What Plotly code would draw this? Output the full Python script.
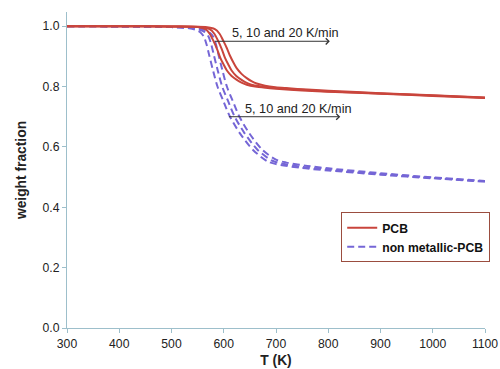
import plotly.graph_objects as go

# PCB curves (heating rates 5, 10, 20 K/min)
T_pcb5 = [300, 400, 500, 550, 565, 573, 580, 587, 593, 600, 606, 615, 625, 635, 644, 660, 680, 700, 750, 800, 900, 1000, 1100]
W_pcb5 = [1.000, 1.000, 0.999, 0.997, 0.990, 0.975, 0.952, 0.925, 0.897, 0.872, 0.853, 0.835, 0.822, 0.812, 0.806, 0.800, 0.796, 0.793, 0.787, 0.783, 0.776, 0.769, 0.762]
T_pcb10 = [300, 400, 500, 555, 573, 582, 589, 596, 602, 609, 615, 624, 634, 644, 653, 669, 689, 709, 750, 800, 900, 1000, 1100]
W_pcb10 = [1.000, 1.000, 0.999, 0.997, 0.990, 0.975, 0.952, 0.925, 0.897, 0.872, 0.853, 0.835, 0.822, 0.812, 0.806, 0.801, 0.797, 0.794, 0.789, 0.784, 0.777, 0.770, 0.763]
T_pcb20 = [300, 400, 500, 565, 583, 592, 599, 606, 612, 619, 625, 634, 644, 654, 663, 679, 699, 719, 760, 800, 900, 1000, 1100]
W_pcb20 = [1.000, 1.000, 0.999, 0.997, 0.990, 0.975, 0.952, 0.927, 0.902, 0.878, 0.860, 0.842, 0.828, 0.817, 0.810, 0.803, 0.798, 0.795, 0.790, 0.786, 0.778, 0.771, 0.764]

# non metallic-PCB curves (heating rates 5, 10, 20 K/min)
T_nm5 = [300, 400, 500, 530, 545, 555, 562, 567, 572, 580, 588, 599, 612, 631, 656, 683, 700, 750, 800, 900, 1000, 1100]
W_nm5 = [1.000, 0.999, 0.997, 0.994, 0.989, 0.980, 0.965, 0.940, 0.905, 0.850, 0.800, 0.753, 0.700, 0.645, 0.590, 0.553, 0.543, 0.530, 0.522, 0.508, 0.496, 0.485]
T_nm10 = [300, 400, 500, 538, 553, 564, 571, 576, 581, 589, 597, 608, 621, 640, 665, 692, 710, 750, 800, 900, 1000, 1100]
W_nm10 = [1.000, 0.999, 0.997, 0.994, 0.989, 0.980, 0.965, 0.940, 0.905, 0.850, 0.800, 0.753, 0.700, 0.645, 0.590, 0.555, 0.545, 0.534, 0.525, 0.510, 0.497, 0.486]
T_nm20 = [300, 400, 500, 545, 561, 572, 580, 585, 590, 598, 606, 617, 630, 649, 674, 701, 720, 760, 800, 900, 1000, 1100]
W_nm20 = [1.000, 0.999, 0.997, 0.994, 0.989, 0.980, 0.965, 0.940, 0.905, 0.850, 0.800, 0.753, 0.700, 0.645, 0.590, 0.557, 0.548, 0.537, 0.529, 0.513, 0.499, 0.487]

x_ticks = [300, 400, 500, 600, 700, 800, 900, 1000, 1100]
y_ticks = [0.0, 0.2, 0.4, 0.6, 0.8, 1.0]
rate_label = "5, 10 and 20 K/min"

RED = "#C9453C"
PURPLE = "#7566D6"
FONT = "Arial, Liberation Sans, sans-serif"

fig = go.Figure()
pcb = [(T_pcb5, W_pcb5), (T_pcb10, W_pcb10), (T_pcb20, W_pcb20)]
nm = [(T_nm5, W_nm5), (T_nm10, W_nm10), (T_nm20, W_nm20)]
for i, (t, w) in enumerate(nm):
    fig.add_trace(go.Scatter(x=t, y=w, mode="lines", line=dict(color=PURPLE, width=2, dash="7px,4px", shape="spline", smoothing=0.8),
                             name="<b>non metallic-PCB</b>", showlegend=(i == 0), legendrank=2))
for i, (t, w) in enumerate(pcb):
    fig.add_trace(go.Scatter(x=t, y=w, mode="lines", line=dict(color=RED, width=2, shape="spline", smoothing=0.8),
                             name="<b>PCB</b>", showlegend=(i == 0), legendrank=1))

# annotations with arrows
fig.add_annotation(x=803, y=0.95, ax=580, ay=0.95, xref="x", yref="y", axref="x", ayref="y",
                   showarrow=True, arrowhead=4, arrowsize=1.2, arrowwidth=1, arrowcolor="#333", text="")
fig.add_annotation(x=612, y=0.979, xref="x", yref="y", text=rate_label, showarrow=False, xanchor="left",
                   font=dict(family=FONT, size=12.7, color="#222"))
fig.add_annotation(x=823, y=0.70, ax=607, ay=0.70, xref="x", yref="y", axref="x", ayref="y",
                   showarrow=True, arrowhead=4, arrowsize=1.2, arrowwidth=1, arrowcolor="#333", text="")
fig.add_annotation(x=636, y=0.727, xref="x", yref="y", text=rate_label, showarrow=False, xanchor="left",
                   font=dict(family=FONT, size=12.7, color="#222"))

axis_col = "#9DBFCB"
fig.update_layout(
    width=510, height=377,
    margin=dict(l=67, r=14, t=12, b=44),
    paper_bgcolor="white", plot_bgcolor="white",
    font=dict(family=FONT, size=12.2, color="#222"),
    xaxis=dict(range=[300, 1100], tickvals=x_ticks, showgrid=False, zeroline=False,
               showline=True, linecolor=axis_col, linewidth=1, ticks="outside", ticklen=4, tickcolor=axis_col,
               title=dict(text="<b>T (K)</b>", font=dict(size=13.8), standoff=5)),
    yaxis=dict(range=[0, 1.047], tickvals=y_ticks, tickformat=".1f", showgrid=False, zeroline=False,
               showline=True, linecolor=axis_col, linewidth=1, ticks="outside", ticklen=4, tickcolor=axis_col,
               title=dict(text="<b>weight fraction</b>", font=dict(size=13.8), standoff=12)),
    legend=dict(x=0.656, y=0.366, xanchor="left", yanchor="top", bgcolor="white",
                bordercolor="#9B4D3F", borderwidth=1, font=dict(size=12.2, color="#111", family=FONT),
                tracegroupgap=0, itemwidth=30),
)

post = (
    "document.documentElement.style.overflow='hidden';"
    "document.body.style.margin='0';document.body.style.overflow='hidden';"
    "var g=document.getElementById('{plot_id}');"
    "g.style.position='fixed';g.style.left='0px';g.style.top='0px';"
)
fig.write_html("out.html", config={"displayModeBar": False}, post_script=post)
